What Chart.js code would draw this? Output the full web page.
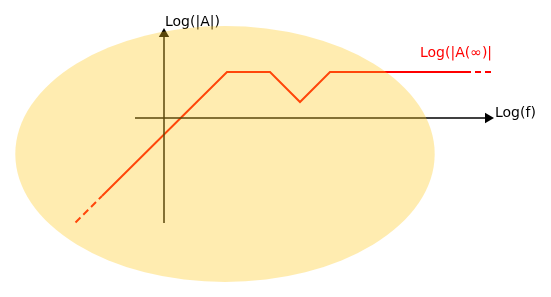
<!DOCTYPE html>
<html>
<head>
<meta charset="utf-8">
<script src="https://cdn.jsdelivr.net/npm/chart.js@4.4.1/dist/chart.umd.min.js"></script>
<style>
  html, body { margin: 0; padding: 0; background: #fff; }
  #wrap { width: 551px; height: 297px; }
</style>
</head>
<body>
<div id="wrap"><canvas id="c" width="551" height="297"></canvas></div>
<script>
// log(f) / log(|A|) in arbitrary units, origin where the axes cross
const gainX = [-6.2, 6.3, 10.6, 13.6, 16.6, 30.7];
const gainY = [-7.8, 4.6, 4.6, 1.6, 4.6, 4.6];
const lowDashX = [-8.85, -6.2];
const lowDashY = [-10.45, -7.8];
const highDashX = [30.7, 32.7];
const highDashY = [4.6, 4.6];
const xAxisX = [-2.9, 32.4];
const yAxisY = [-10.5, 8.4];
const labels = { yAxis: 'Log(|A|)', xAxis: 'Log(f)', gainInf: 'Log(|A(\u221e)|' };
// background blob: centre + radii in the same units
const blob = { cx: 6.1, cy: -3.6, rx: 20.97, ry: 12.8 };

const pts = (xs, ys) => xs.map((x, i) => ({ x: x, y: ys[i] }));

const overlay = {
    id: 'overlay',
    afterDatasetsDraw(chart) {
        const ctx = chart.ctx, sx = chart.scales.x, sy = chart.scales.y;
        ctx.save();
        ctx.font = '14px "DejaVu Sans"';
        ctx.textBaseline = 'alphabetic';
        ctx.fillStyle = '#000';
        ctx.fillText(labels.yAxis, sx.getPixelForValue(0.1), sy.getPixelForValue(9.2));
        ctx.fillText(labels.xAxis, sx.getPixelForValue(33.1), sy.getPixelForValue(0.1));
        ctx.fillStyle = '#ff0000';
        ctx.fillText(labels.gainInf, sx.getPixelForValue(25.6), sy.getPixelForValue(6.1));
        ctx.restore();
    },
    afterDraw(chart) {
        const ctx = chart.ctx, sx = chart.scales.x, sy = chart.scales.y;
        const cx = sx.getPixelForValue(blob.cx), cy = sy.getPixelForValue(blob.cy);
        const rx = Math.abs(sx.getPixelForValue(blob.cx + blob.rx) - cx);
        const ry = Math.abs(sy.getPixelForValue(blob.cy + blob.ry) - cy);
        ctx.save();
        ctx.fillStyle = 'rgba(255, 200, 30, 0.35)';
        ctx.beginPath();
        ctx.ellipse(cx, cy, rx, ry, 0, 0, Math.PI * 2);
        ctx.fill();
        ctx.restore();
    }
};

new Chart(document.getElementById('c'), {
    type: 'scatter',
    data: {
        datasets: [
            {
                data: pts(xAxisX, [0, 0]),
                showLine: true,
                borderColor: '#000',
                backgroundColor: '#000',
                borderWidth: 1.5,
                pointStyle: 'triangle',
                pointRadius: [0, 6],
                pointRotation: 90,
                pointBorderWidth: 0
            },
            {
                data: pts([0, 0], yAxisY),
                showLine: true,
                borderColor: '#000',
                backgroundColor: '#000',
                borderWidth: 1.5,
                pointStyle: 'triangle',
                pointRadius: [0, 6],
                pointRotation: 0,
                pointBorderWidth: 0
            },
            {
                data: pts(gainX, gainY),
                showLine: true,
                borderColor: '#ff0000',
                borderWidth: 2,
                pointRadius: 0
            },
            {
                data: pts(lowDashX, lowDashY),
                showLine: true,
                borderColor: '#ff0000',
                borderWidth: 2,
                borderDash: [7, 4],
                pointRadius: 0
            },
            {
                data: pts(highDashX, highDashY),
                showLine: true,
                borderColor: '#ff0000',
                borderWidth: 2,
                borderDash: [6, 4],
                borderDashOffset: 6,
                pointRadius: 0
            }
        ]
    },
    options: {
        responsive: false,
        animation: false,
        events: [],
        layout: { padding: 0, autoPadding: false },
        clip: false,
        scales: {
            x: { type: 'linear', display: false, min: -16.4, max: 38.7 },
            y: { type: 'linear', display: false, min: -17.9, max: 11.8 }
        },
        plugins: {
            legend: { display: false },
            tooltip: { enabled: false }
        }
    },
    plugins: [overlay]
});
</script>
</body>
</html>
